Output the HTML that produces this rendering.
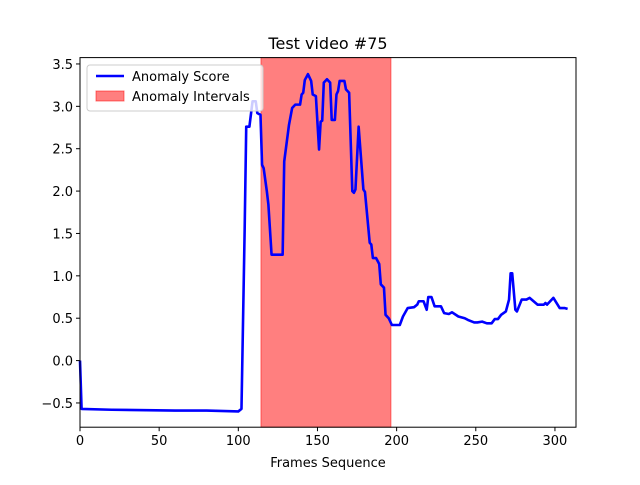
<!DOCTYPE html>
<html><head><meta charset="utf-8"><style>
body{margin:0;background:#fff}
svg{font-family:"DejaVu Sans","Liberation Sans",sans-serif}
</style></head><body>
<svg id="chart" width="640" height="480">
<rect width="640" height="480" fill="#fff"/>
<text x="328" y="49" text-anchor="middle" font-size="16">Test video #75</text>
<g id="interval"></g>
<g id="line"></g>
<g id="axes"></g>
<g>
<rect x="87" y="65" width="176" height="46" rx="3" fill="#fff" fill-opacity="0.8" stroke="#ccc"/>
<line x1="96" y1="76" x2="124" y2="76" stroke="blue" stroke-width="2.5"/>
<text x="132" y="81" font-size="13">Anomaly Score</text>
<rect x="96" y="91" width="28" height="10" fill="red" fill-opacity="0.5" stroke="red" stroke-opacity="0.5"/>
<text x="132" y="101" font-size="13">Anomaly Intervals</text>
</g>
<text x="328" y="467" text-anchor="middle" font-size="13">Frames Sequence</text>
</svg>
<script>
const frames=[0,1,20,60,80,100,102,104,105,107,109,111,112,114,115,116,118,119,121,128,129,132,134,136,139,140,141,142,144,146,147,149,151,152,153,154,156,158,159,161,162,163,164,167,168,170,172,173,174,176,179,180,183,184,185,187,189,190,192,193,195,197,202,204,207,211,213,214,217,219,220,222,224,228,230,233,235,239,243,245,249,251,254,257,260,262,264,266,269,271,272,273,275,276,279,282,284,289,293,294,295,299,303,306,308];
const scores=[0.0,-0.57,-0.58,-0.59,-0.59,-0.60,-0.57,1.54,2.76,2.76,3.06,3.06,2.92,2.90,2.31,2.27,2.00,1.84,1.25,1.25,2.35,2.78,2.98,3.02,3.02,3.14,3.16,3.31,3.38,3.30,3.14,3.12,2.49,2.82,2.83,3.28,3.32,3.28,2.84,2.84,3.14,3.18,3.30,3.30,3.20,3.16,2.00,1.98,2.02,2.76,2.02,1.99,1.39,1.37,1.21,1.21,1.14,0.90,0.86,0.54,0.50,0.42,0.42,0.52,0.62,0.63,0.66,0.70,0.70,0.60,0.75,0.75,0.64,0.64,0.56,0.55,0.57,0.52,0.50,0.48,0.45,0.45,0.46,0.44,0.44,0.49,0.49,0.54,0.58,0.72,1.03,1.03,0.60,0.58,0.72,0.72,0.74,0.66,0.66,0.68,0.66,0.74,0.62,0.62,0.61];
const intervalStart=[114.3];
const intervalEnd=[196.4];
const xTicks=[0,50,100,150,200,250,300];
const yTicks=[-0.5,0.0,0.5,1.0,1.5,2.0,2.5,3.0,3.5];
const L=80,R=576,T=57.6,B=427.2,XMIN=0,XMAX=313.3,YMIN=-0.786,YMAX=3.575;
const sx=v=>L+(v-XMIN)/(XMAX-XMIN)*(R-L);
const sy=v=>B-(v-YMIN)/(YMAX-YMIN)*(B-T);
const NS='http://www.w3.org/2000/svg';
function mk(tag,attrs,parent){const e=document.createElementNS(NS,tag);for(const k in attrs)e.setAttribute(k,attrs[k]);parent.appendChild(e);return e;}
const gi=document.getElementById('interval');
intervalStart.forEach((s,i)=>{
 const r=mk('rect',{x:sx(s),y:T,width:sx(intervalEnd[i])-sx(s),height:B-T,fill:'red','fill-opacity':0.5,stroke:'red','stroke-opacity':0.5},gi);
 
 
});
const gl=document.getElementById('line');
const p=mk('polyline',{points:frames.map((f,i)=>sx(f)+','+sy(scores[i])).join(' '),fill:'none',stroke:'blue','stroke-width':2.6,'stroke-linejoin':'round'},gl);


const ga=document.getElementById('axes');
const fr=mk('rect',{x:L,y:T,width:R-L,height:B-T,fill:'none',stroke:'#000','stroke-width':1},ga);


xTicks.forEach(t=>{
 const x=sx(t);
 mk('line',{x1:x,y1:B,x2:x,y2:B+4,stroke:'#000'},ga);
 const tx=mk('text',{x:x,y:B+18,'text-anchor':'middle','font-size':13},ga);
 tx.textContent=t;
 
 
});
yTicks.forEach(t=>{
 const y=sy(t);
 mk('line',{x1:L-4,y1:y,x2:L,y2:y,stroke:'#000'},ga);
 const tx=mk('text',{x:L-7,y:y+5,'text-anchor':'end','font-size':13},ga);
 tx.textContent=t.toFixed(1).replace('-','\u2212');
 
 
});
</script>
</body></html>
